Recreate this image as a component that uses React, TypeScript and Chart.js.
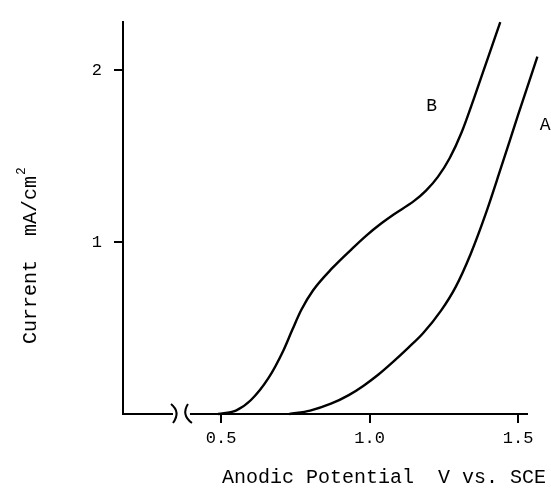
import React, { useEffect, useRef } from "react";
import { Chart, registerables } from "chart.js";

Chart.register(...registerables);

// Curve B (mA/cm^2 vs V)
const bPotential = [0.49, 0.55, 0.6, 0.66, 0.71, 0.74, 0.77, 0.81, 0.875, 0.94, 0.99, 1.04, 1.08, 1.15, 1.19, 1.23, 1.27, 1.31, 1.35, 1.4, 1.44];
const bCurrent = [0, 0.02, 0.08, 0.21, 0.37, 0.49, 0.605, 0.72, 0.85, 0.96, 1.04, 1.11, 1.16, 1.24, 1.3, 1.38, 1.49, 1.64, 1.83, 2.08, 2.28];

// Curve A
const aPotential = [0.73, 0.8, 0.87, 0.93, 0.98, 1.03, 1.08, 1.13, 1.18, 1.24, 1.29, 1.34, 1.39, 1.44, 1.5, 1.565];
const aCurrent = [0, 0.02, 0.06, 0.11, 0.165, 0.23, 0.305, 0.385, 0.47, 0.6, 0.74, 0.93, 1.16, 1.42, 1.74, 2.08];

const xTicks = [0.5, 1.0, 1.5];
const yTicks = [1, 2];
const xMin = 0.17;
const xMax = 1.53;
const yMin = 0;
const yMax = 2.28;

const curveLabels = ["B", "A"];
const labelX = [1.209, 1.591];
const labelY = [1.79, 1.68];

const breakLeft = 0.345;
const breakRight = 0.392;

const xTitle = "Anodic Potential  V vs. SCE";
const yTitle = "Current  mA/cm";
const ySup = "2";

const FONT = "'Liberation Mono', 'DejaVu Sans Mono', monospace";

const decorPlugin = {
  id: "decor",
  afterDraw(chart: any) {
    const ctx = chart.ctx;
    const xs = chart.scales.x;
    const ys = chart.scales.y;
    const area = chart.chartArea;
    ctx.save();
    // axis break
    const p1 = xs.getPixelForValue(breakLeft);
    const p2 = xs.getPixelForValue(breakRight);
    const y0 = area.bottom;
    ctx.fillStyle = "#fff";
    ctx.fillRect(p1 - 2, y0 - 3, p2 - p1 + 3, 6);
    ctx.strokeStyle = "#000";
    ctx.lineWidth = 2;
    ctx.beginPath();
    ctx.moveTo(p1 - 4, y0 - 10);
    ctx.quadraticCurveTo(p1 + 6, y0 - 2, p1 - 2, y0 + 9);
    ctx.stroke();
    ctx.beginPath();
    ctx.moveTo(p2 - 1, y0 - 10);
    ctx.quadraticCurveTo(p2 - 8, y0 + 1, p2 + 3, y0 + 9);
    ctx.stroke();

    // curve labels
    ctx.fillStyle = "#000";
    ctx.font = `18px ${FONT}`;
    ctx.textAlign = "center";
    ctx.textBaseline = "middle";
    curveLabels.forEach((t, i) => {
      ctx.fillText(t, xs.getPixelForValue(labelX[i]), ys.getPixelForValue(labelY[i]));
    });

    // x title
    ctx.font = `20px ${FONT}`;
    ctx.textAlign = "center";
    ctx.textBaseline = "alphabetic";
    ctx.fillText(xTitle, 384, 483);

    // y title
    ctx.translate(31, 344);
    ctx.rotate(-Math.PI / 2);
    ctx.textAlign = "left";
    ctx.textBaseline = "middle";
    ctx.fillText(yTitle, 0, 0);
    const w = ctx.measureText(yTitle).width;
    ctx.font = `13px ${FONT}`;
    ctx.fillText(ySup, w + 1, -9);
    ctx.restore();
  },
};

export default function App() {
  const ref = useRef<HTMLCanvasElement | null>(null);
  useEffect(() => {
    if (!ref.current) return;
    const chart = new Chart(ref.current, {
      type: "scatter",
      data: {
        datasets: [
          {
            label: "B",
            data: bPotential.map((x, i) => ({ x, y: bCurrent[i] })),
            showLine: true,
            borderColor: "#000",
            borderWidth: 2.4,
            pointRadius: 0,
            cubicInterpolationMode: "monotone",
            clip: false,
          } as any,
          {
            label: "A",
            data: aPotential.map((x, i) => ({ x, y: aCurrent[i] })),
            showLine: true,
            borderColor: "#000",
            borderWidth: 2.4,
            pointRadius: 0,
            cubicInterpolationMode: "monotone",
            clip: false,
          } as any,
        ],
      },
      options: {
        responsive: false,
        animation: false,
        layout: { padding: { left: 0, top: 17, right: 24, bottom: 0 } },
        plugins: { legend: { display: false }, tooltip: { enabled: false } },
        scales: {
          x: {
            type: "linear",
            min: xMin,
            max: xMax,
            afterBuildTicks: (s: any) => {
              s.ticks = xTicks.map((v) => ({ value: v }));
            },
            afterFit: (s: any) => {
              s.height = 75;
            },
            border: { color: "#000", width: 2 },
            grid: { drawOnChartArea: false, drawTicks: true, tickLength: 9, color: "#000", lineWidth: 2 },
            ticks: {
              color: "#000",
              font: { family: FONT, size: 17 },
              padding: 5,
              maxRotation: 0,
              callback: (v: any) => Number(v).toFixed(1),
            },
          },
          y: {
            type: "linear",
            min: yMin,
            max: yMax,
            afterBuildTicks: (s: any) => {
              s.ticks = yTicks.map((v) => ({ value: v }));
            },
            afterFit: (s: any) => {
              s.width = 123;
            },
            border: { color: "#000", width: 2 },
            grid: { drawOnChartArea: false, drawTicks: true, tickLength: 9, color: "#000", lineWidth: 2 },
            ticks: {
              color: "#000",
              font: { family: FONT, size: 17 },
              padding: 12,
              callback: (v: any) => String(v),
            },
          },
        },
      },
      plugins: [decorPlugin],
    });
    return () => chart.destroy();
  }, []);
  return (
    <div style={{ position: "absolute", left: 0, top: 0, width: 551, height: 489, background: "#fff" }}>
      <canvas ref={ref} width={551} height={489} />
    </div>
  );
}
